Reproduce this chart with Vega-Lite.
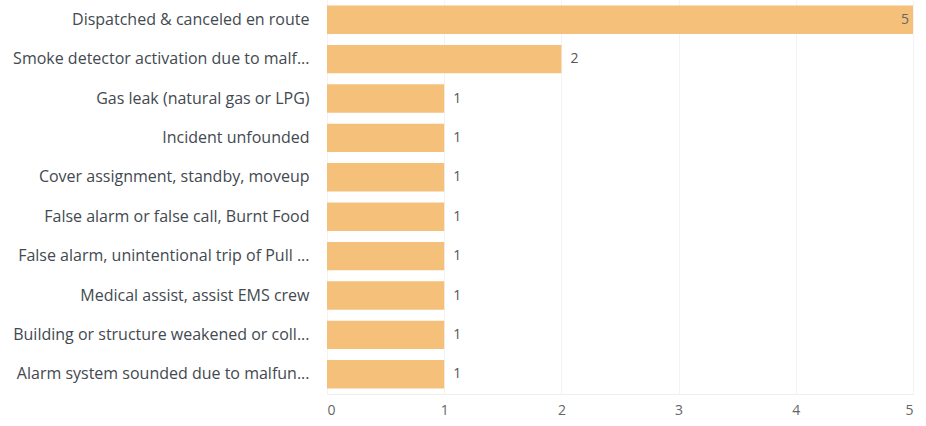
{
  "$schema": "https://vega.github.io/schema/vega-lite/v6.json",
  "autosize": {"type": "none"},
  "padding": {"left": 327, "top": 0, "right": 13, "bottom": 32},
  "width": 586,
  "height": 394,
  "background": "white",
  "data": {
    "values": [
      {"type": "Dispatched & canceled en route", "count": 5},
      {"type": "Smoke detector activation due to malf...", "count": 2},
      {"type": "Gas leak (natural gas or LPG)", "count": 1},
      {"type": "Incident unfounded", "count": 1},
      {"type": "Cover assignment, standby, moveup", "count": 1},
      {"type": "False alarm or false call, Burnt Food", "count": 1},
      {"type": "False alarm, unintentional trip of Pull ...", "count": 1},
      {"type": "Medical assist, assist EMS crew", "count": 1},
      {"type": "Building or structure weakened or coll...", "count": 1},
      {"type": "Alarm system sounded due to malfun...", "count": 1}
    ]
  },
  "encoding": {
    "y": {
      "field": "type", "type": "nominal", "sort": null,
      "scale": {"paddingInner": 0.28, "paddingOuter": 0.14},
      "axis": {"title": null, "domain": false, "ticks": false, "labelPadding": 18, "labelLimit": 330,
               "labelFont": "Open Sans", "labelFontSize": 16, "labelColor": "#434950"}
    },
    "x": {
      "field": "count", "type": "quantitative",
      "scale": {"domain": [0, 5], "nice": false},
      "axis": {"title": null, "values": [0, 1, 2, 3, 4, 5], "domain": true, "domainColor": "#eeeeee", "ticks": false,
               "grid": true, "gridColor": "#f3f3f3", "labelPadding": 9,
               "labelFont": "Open Sans", "labelFontSize": 14, "labelColor": "#666"}
    }
  },
  "layer": [
    {"mark": {"type": "bar", "color": "#f5c07a"}},
    {
      "transform": [{"filter": "datum.count < 5"}],
      "mark": {"type": "text", "align": "left", "dx": 9, "font": "Open Sans", "fontSize": 14, "color": "#555"},
      "encoding": {"text": {"field": "count"}}
    },
    {
      "transform": [{"filter": "datum.count >= 5"}],
      "mark": {"type": "text", "align": "right", "dx": -4, "font": "Open Sans", "fontSize": 14, "color": "#666"},
      "encoding": {"text": {"field": "count"}}
    }
  ],
  "config": {"view": {"stroke": null}}
}
